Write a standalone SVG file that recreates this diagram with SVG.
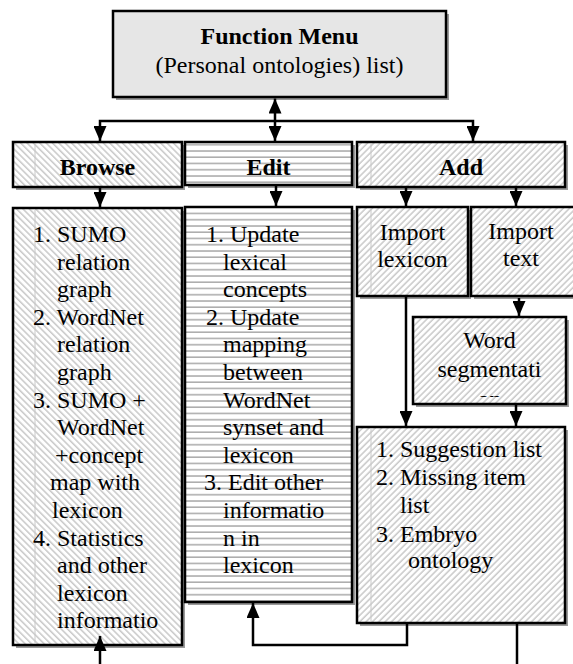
<svg xmlns="http://www.w3.org/2000/svg" width="573" height="664" viewBox="0 0 573 664">
<style>
.box{stroke:#000;stroke-width:2.5}
.sh{fill:#9a9a9a}
.t{font-family:"Liberation Serif","Times New Roman",serif;font-size:24px;fill:#000}
.b{font-weight:bold}
.c{text-anchor:middle}
.con{fill:none;stroke:#000;stroke-width:2.5}
.gl{stroke:#c8c8c8;stroke-width:1}
</style>
<defs>
<pattern id="hb" width="4.5" height="4.5" patternUnits="userSpaceOnUse" patternTransform="rotate(45)">
<rect width="4.5" height="4.5" fill="#fff"/>
<line x1="0" y1="1" x2="4.5" y2="1" stroke="#b4b4b4" stroke-width="1.1"/>
</pattern>
<pattern id="ha" width="4.5" height="4.5" patternUnits="userSpaceOnUse" patternTransform="rotate(-45)">
<rect width="4.5" height="4.5" fill="#fff"/>
<line x1="0" y1="1" x2="4.5" y2="1" stroke="#b4b4b4" stroke-width="1.1"/>
</pattern>
<pattern id="he" width="10" height="6.25" patternUnits="userSpaceOnUse">
<rect width="10" height="6.25" fill="#fff"/>
<line x1="0" y1="1" x2="10" y2="1" stroke="#a8a8a8" stroke-width="1.5"/>
</pattern>
<marker id="ah" markerUnits="userSpaceOnUse" markerWidth="15" markerHeight="13" refX="15" refY="6.5" orient="auto-start-reverse">
<path d="M0,0 L15,6.5 L0,13 z" fill="#000"/>
</marker>
<clipPath id="wsclip"><rect x="413" y="317" width="153" height="80"/></clipPath>
</defs>

<g id="function-menu">
<rect class="sh" x="116" y="14" width="333" height="86"/>
<rect class="box" x="113" y="11" width="333" height="86" fill="#e6e6e6"/>
<text class="t b c" x="279.5" y="44">Function Menu</text>
<text class="t c" x="279.5" y="73">(Personal ontologies) list)</text>
</g>

<g id="browse">
<rect class="sh" x="16" y="145" width="169" height="45"/>
<rect class="box" x="13" y="142" width="169" height="45" fill="url(#hb)"/>
<line class="gl" x1="35" y1="144" x2="35" y2="185"/>
<text class="t b c" x="97.5" y="175">Browse</text>
</g>

<g id="edit">
<rect class="sh" x="188" y="145" width="167" height="43"/>
<rect class="box" x="185" y="142" width="167" height="43" fill="url(#he)"/>
<text class="t b c" x="268.5" y="175">Edit</text>
</g>

<g id="add">
<rect class="sh" x="360" y="145" width="208" height="45"/>
<rect class="box" x="357" y="142" width="208" height="45" fill="url(#ha)"/>
<line class="gl" x1="371" y1="144" x2="371" y2="185"/>
<text class="t b c" x="461" y="175">Add</text>
</g>

<g id="browse-list">
<rect class="sh" x="16" y="211" width="169" height="437"/>
<rect class="box" x="13" y="208" width="169" height="437" fill="url(#hb)"/>
<line class="gl" x1="35" y1="210" x2="35" y2="643"/>
<text class="t" x="33" y="242">1. SUMO</text>
<text class="t" x="57" y="269.6">relation</text>
<text class="t" x="57" y="297.2">graph</text>
<text class="t" x="33" y="324.8">2. WordNet</text>
<text class="t" x="57" y="352.4">relation</text>
<text class="t" x="57" y="380">graph</text>
<text class="t" x="33" y="407.6">3. SUMO +</text>
<text class="t" x="57" y="435.2">WordNet</text>
<text class="t" x="55" y="462.8">+concept</text>
<text class="t" x="50" y="490.4">map with</text>
<text class="t" x="52" y="518">lexicon</text>
<text class="t" x="33" y="545.6">4. Statistics</text>
<text class="t" x="57" y="573.2">and other</text>
<text class="t" x="57" y="600.8">lexicon</text>
<text class="t" x="57" y="628.4">informatio</text>
</g>

<g id="edit-list">
<rect class="sh" x="188" y="210" width="167" height="395"/>
<rect class="box" x="185" y="207" width="167" height="395" fill="url(#he)"/>
<text class="t" x="206" y="242">1. Update</text>
<text class="t" x="223" y="269.6">lexical</text>
<text class="t" x="223" y="297.2">concepts</text>
<text class="t" x="206" y="324.8">2. Update</text>
<text class="t" x="223" y="352.4">mapping</text>
<text class="t" x="223" y="380">between</text>
<text class="t" x="223" y="407.6">WordNet</text>
<text class="t" x="223" y="435.2">synset and</text>
<text class="t" x="223" y="462.8">lexicon</text>
<text class="t" x="204" y="490.4">3. Edit other</text>
<text class="t" x="223" y="518">informatio</text>
<text class="t" x="223" y="545.6">n in</text>
<text class="t" x="223" y="573.2">lexicon</text>
</g>

<g id="import-lexicon">
<rect class="sh" x="360" y="210" width="111" height="89"/>
<rect class="box" x="357" y="207" width="111" height="89" fill="url(#ha)"/>
<line class="gl" x1="371" y1="209" x2="371" y2="294"/>
<text class="t c" x="412.5" y="240">Import</text>
<text class="t c" x="412.5" y="267">lexicon</text>
</g>

<g id="import-text">
<rect class="sh" x="474" y="210" width="104" height="89"/>
<rect class="box" x="471" y="207" width="106" height="89" fill="url(#ha)"/>
<text class="t c" x="521" y="239">Import</text>
<text class="t c" x="521" y="266">text</text>
</g>

<g id="word-segmentation">
<rect class="sh" x="416" y="320" width="153" height="87"/>
<rect class="box" x="413" y="317" width="153" height="87" fill="url(#ha)"/>
<text class="t c" x="489.5" y="348">Word</text>
<text class="t c" x="489.5" y="377">segmentati</text>
<text class="t c" x="489.5" y="407" clip-path="url(#wsclip)">on</text>
</g>

<g id="output-list">
<rect class="sh" x="360" y="430" width="208" height="196"/>
<rect class="box" x="357" y="427" width="208" height="196" fill="url(#ha)"/>
<line class="gl" x1="371" y1="429" x2="371" y2="621"/>
<text class="t" x="376" y="457">1. Suggestion list</text>
<text class="t" x="376" y="485">2. Missing item</text>
<text class="t" x="400" y="513">list</text>
<text class="t" x="376" y="542">3. Embryo</text>
<text class="t" x="408" y="568">ontology</text>
</g>

<g id="connectors">
<line class="con" x1="275" y1="98.5" x2="275" y2="141" marker-start="url(#ah)" marker-end="url(#ah)"/>
<polyline class="con" points="100,141 100,121 473,121 473,141" marker-start="url(#ah)" marker-end="url(#ah)"/>
<line class="con" x1="100" y1="188" x2="100" y2="207" marker-end="url(#ah)"/>
<line class="con" x1="276" y1="186" x2="276" y2="206" marker-end="url(#ah)"/>
<line class="con" x1="406" y1="188" x2="406" y2="206" marker-end="url(#ah)"/>
<line class="con" x1="516" y1="188" x2="516" y2="206" marker-end="url(#ah)"/>
<line class="con" x1="519" y1="298" x2="519" y2="316" marker-end="url(#ah)"/>
<line class="con" x1="406" y1="297" x2="406" y2="426" marker-end="url(#ah)"/>
<line class="con" x1="516" y1="405" x2="516" y2="426" marker-end="url(#ah)"/>
<polyline class="con" points="407,624 407,645 253,645 253,603" marker-end="url(#ah)"/>
<line class="con" x1="517" y1="624" x2="517" y2="664"/>
<line class="con" x1="100" y1="664" x2="100" y2="636" marker-end="url(#ah)"/>
</g>
</svg>
